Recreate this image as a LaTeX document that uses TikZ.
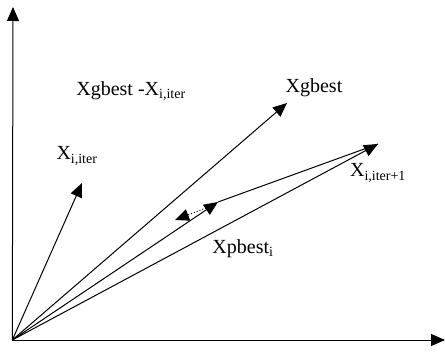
\documentclass[tikz,border=0pt]{standalone}
\usepackage{fontspec}
\setmainfont{Liberation Serif}
\usetikzlibrary{arrows.meta}
\tikzset{
  vec/.style={line width=1pt, -{Triangle[length=14pt,width=12pt]}},
  plain/.style={line width=1pt},
  lbl/.style={inner sep=0pt, font=\fontsize{20}{24}\selectfont}
}
\begin{document}
\begin{tikzpicture}[x=1pt,y=-1pt]
\useasboundingbox (0,0) rectangle (445,353);
\coordinate (O) at (12.3,340);
\coordinate (Ytop) at (13,7);
\coordinate (Xend) at (445,340);
\coordinate (Xi) at (82,183);
\coordinate (G) at (287,103);
\coordinate (A) at (218,202);
\coordinate (B) at (378,144);
\coordinate (C) at (175,220);
\coordinate (Ab) at (206,208);
\draw[vec] (O) -- (Ytop);
\draw[vec] (O) -- (Xend);
\draw[vec] (O) -- (Xi);
\draw[vec] (O) -- (G);
\draw[vec] (O) -- (A);
\draw[vec] (O) -- (B);
\draw[plain] (A) -- (B);
\draw[line width=1pt, dotted, -{Triangle[length=14pt,width=12pt]}] (Ab) -- (C);
\node[lbl] (t1) at (131,91) {Xgbest -X\textsubscript{i,iter}};
\node[lbl] (t2) at (314,88) {Xgbest};
\node[lbl] (t3) at (77,156) {X\textsubscript{i,iter}};
\node[lbl] (t4) at (378,173) {X\textsubscript{i,iter+1}};
\node[lbl] (t5) at (243,249) {Xpbest\textsubscript{i}};
\end{tikzpicture}
\end{document}
